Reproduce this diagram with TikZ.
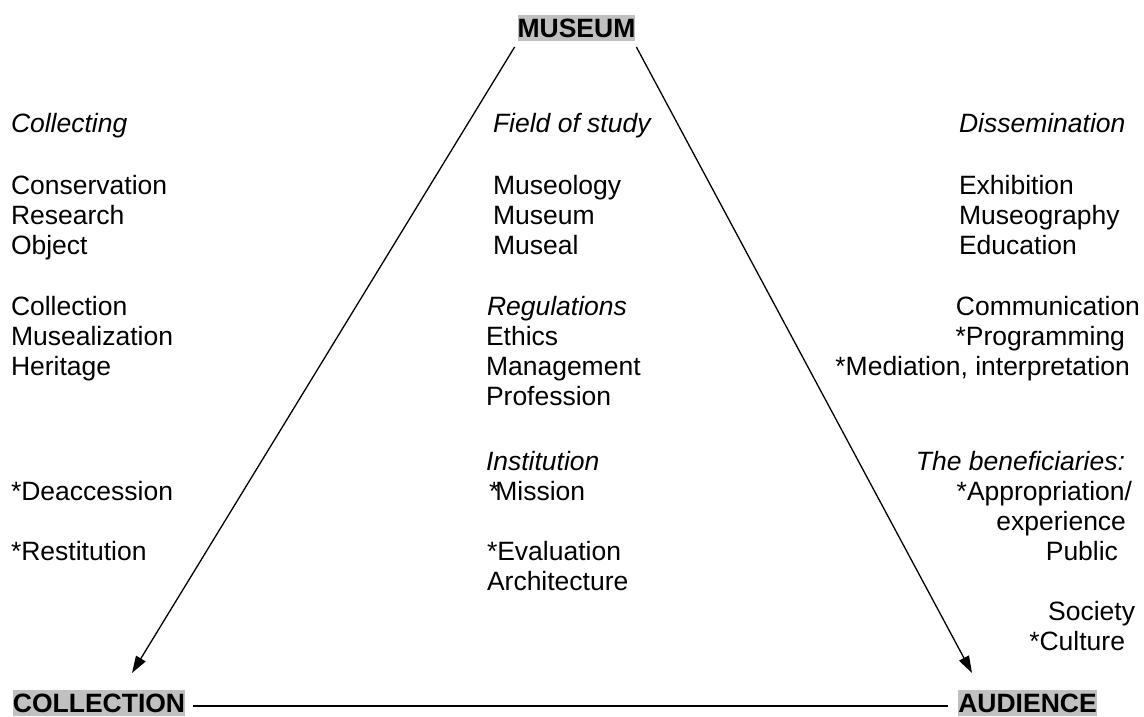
\documentclass[tikz,border=0pt]{standalone}
\usepackage{fontspec}
\setmainfont{Liberation Sans}
\usetikzlibrary{arrows.meta}
\definecolor{boxgray}{RGB}{192,192,192}
\begin{document}
\begin{tikzpicture}[x=1pt,y=-1pt,
  every node/.style={inner sep=0pt,outer sep=0pt,font=\fontsize{26.5}{30}\selectfont},
  lw/.style={anchor=base west},
  le/.style={anchor=base east},
  it/.style={font=\fontsize{26.5}{30}\selectfont\itshape},
  vertex/.style={fill=boxgray,font=\fontsize{26.5}{30}\selectfont\bfseries,minimum height=26pt,text depth=0pt},
  edge/.style={line width=1.3pt},
  arr/.style={edge,-{Triangle[length=17pt,width=11pt]}}]
\useasboundingbox (0,0) rectangle (1144,716);
% vertices
\node[vertex] (museum) at (576.5,28) {MUSEUM};
\node[vertex] (collection) at (99,703) {COLLECTION};
\node[vertex] (audience) at (1027.5,703) {AUDIENCE};
\coordinate (ltip) at (132,673);
\coordinate (rtip) at (972,673);
\draw[arr] ([xshift=-3pt,yshift=-6pt]museum.south west) -- (ltip);
\draw[arr] ([xshift=1pt,yshift=-6pt]museum.south east) -- (rtip);
\draw[edge] ([xshift=8pt,yshift=-3pt]collection.east) -- ([xshift=-10pt,yshift=-3pt]audience.west);
% left column
\node[lw,it] (l1) at (11,132) {Collecting};
\node[lw] (l2) at (11,194) {Conservation};
\node[lw] (l3) at (11,224) {Research};
\node[lw] (l4) at (11,254) {Object};
\node[lw] (l5) at (11,315) {Collection};
\node[lw] (l6) at (11,345) {Musealization};
\node[lw] (l7) at (11,375) {Heritage};
\node[lw] (l8) at (11,500) {*Deaccession};
\node[lw] (l9) at (11,560) {*Restitution};
% middle column
\node[lw,it] (m1) at (493,132) {Field of study};
\node[lw] (m2) at (493,194) {Museology};
\node[lw] (m3) at (493,224) {Museum};
\node[lw] (m4) at (493,254) {Museal};
\node[lw,it] (m5) at (487,315) {Regulations};
\node[lw] (m6) at (486,345) {Ethics};
\node[lw] (m7) at (486,375) {Management};
\node[lw] (m8) at (486,405) {Profession};
\node[lw,it] (m9) at (486,470) {Institution};
\node[lw] (m10) at (489,500) {*\kern-4pt Mission};
\node[lw] (m11) at (487,560) {*Evaluation};
\node[lw] (m12) at (487,590) {Architecture};
% right column
\node[lw,it] (r1) at (959,132) {Dissemination};
\node[lw] (r2) at (959,194) {Exhibition};
\node[lw] (r3) at (959,224) {Museography};
\node[lw] (r4) at (959,254) {Education};
\node[le] (r5) at (1140,315) {Communication};
\node[le] (r6) at (1125,345) {*Programming};
\node[le] (r7) at (1130,375) {*Mediation, interpretation};
\node[le,it] (r8) at (1125,470) {The beneficiaries:};
\node[le] (r9) at (1132,500) {*Appropriation/};
\node[le] (r10) at (1126,530) {experience};
\node[le] (r11) at (1118,560) {Public};
\node[le] (r12) at (1135,620) {Society};
\node[le] (r13) at (1125,650) {*Culture};
\end{tikzpicture}
\end{document}
